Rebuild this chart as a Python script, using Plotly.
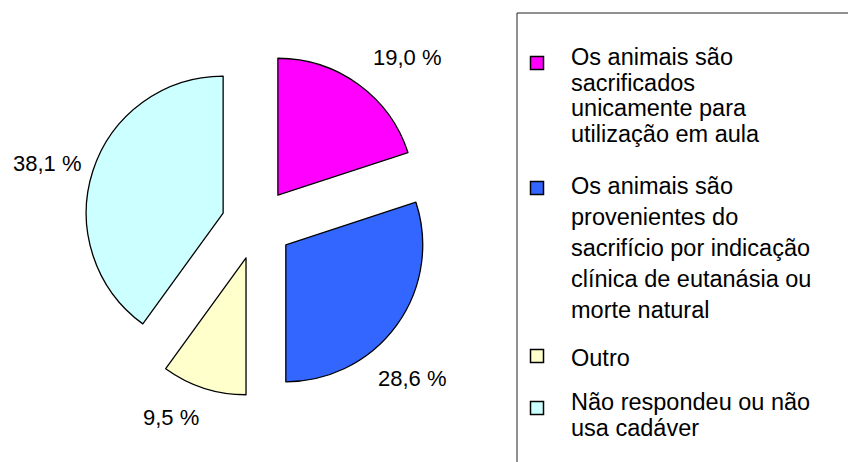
import plotly.graph_objects as go

# ---- data ----
categories = [
    "Os animais são sacrificados unicamente para utilização em aula",
    "Os animais são provenientes do sacrifício por indicação clínica de eutanásia ou morte natural",
    "Outro",
    "Não respondeu ou não usa cadáver",
]
legend_lines = [
    ["Os animais são", "sacrificados", "unicamente para", "utilização em aula"],
    ["Os animais são", "provenientes do", "sacrifício por indicação", "clínica de eutanásia ou", "morte natural"],
    ["Outro"],
    ["Não respondeu ou não", "usa cadáver"],
]
values = [19.0, 28.6, 9.5, 38.1]
value_labels = ["19,0 %", "28,6 %", "9,5 %", "38,1 %"]
colors = ["#FF00FF", "#3366FF", "#FFFFCC", "#CCFFFF"]

# ---- layout constants (pixels) ----
W, H = 848, 462
FONT = "Arial, Liberation Sans, sans-serif"
FS_LABEL = 22
FS_LEGEND = 23.5

def px(x):
    return x / W

def py(y):
    return 1 - y / H

pie_cx, pie_cy, pie_span = 257, 224, 345
label_pos = [(407, 58), (412, 378), (171, 417), (47, 163)]
legend_box = (517, 13, 870, 480)
marker_x = 537
marker_y = [63, 188, 356, 408]
marker_size = 13
text_x = 569
line_tops = [57, 186, 358, 402]
line_steps = [25.7, 31, 26, 26]

fig = go.Figure()
fig.add_trace(go.Pie(
    labels=categories,
    values=values,
    sort=False,
    direction="clockwise",
    rotation=0,
    pull=[0.26] * len(values),
    marker=dict(colors=colors, line=dict(color="black", width=1.3)),
    textinfo="none",
    hoverinfo="label+percent",
    showlegend=False,
    domain=dict(
        x=[px(pie_cx - 220), px(pie_cx + 220)],
        y=[py(pie_cy + pie_span / 2), py(pie_cy - pie_span / 2)],
    ),
))

annotations = []
for (lx, ly), txt in zip(label_pos, value_labels):
    annotations.append(dict(
        x=px(lx), y=py(ly), xref="paper", yref="paper", text=txt,
        showarrow=False, xanchor="center", yanchor="middle",
        font=dict(family=FONT, size=FS_LABEL, color="black"),
    ))

shapes = [dict(
    type="rect", xref="paper", yref="paper",
    x0=px(legend_box[0]), x1=px(legend_box[2]),
    y0=py(legend_box[3]), y1=py(legend_box[1]),
    line=dict(color="#222222", width=1), fillcolor="rgba(0,0,0,0)",
)]

for i, lines in enumerate(legend_lines):
    my = marker_y[i]
    shapes.append(dict(
        type="rect", xref="paper", yref="paper",
        x0=px(marker_x - marker_size / 2), x1=px(marker_x + marker_size / 2),
        y0=py(my + marker_size / 2), y1=py(my - marker_size / 2),
        line=dict(color="black", width=1.5), fillcolor=colors[i],
    ))
    for j, line in enumerate(lines):
        ly = line_tops[i] + j * line_steps[i]
        annotations.append(dict(
            x=px(text_x), y=py(ly), xref="paper", yref="paper", text=line,
            showarrow=False, xanchor="left", yanchor="middle",
            font=dict(family=FONT, size=FS_LEGEND, color="black"),
        ))

fig.update_layout(
    width=W, height=H,
    margin=dict(l=0, r=0, t=0, b=0),
    paper_bgcolor="white",
    plot_bgcolor="white",
    annotations=annotations,
    shapes=shapes,
)

fig.write_html(
    "out.html",
    config={"displayModeBar": False},
    post_script="document.body.style.margin='0';",
)
